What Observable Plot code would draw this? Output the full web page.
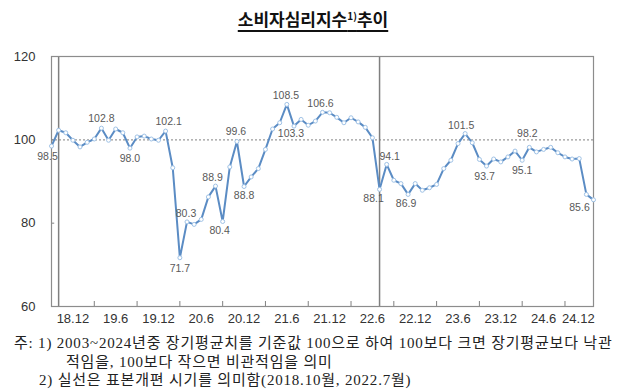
<!DOCTYPE html>
<html><head><meta charset="utf-8">
<script src="https://cdn.jsdelivr.net/npm/d3@7"></script>
<script src="https://cdn.jsdelivr.net/npm/@observablehq/plot@0.6"></script>
<style>
body{margin:0;background:#fff;width:640px;height:392px;position:relative;overflow:hidden;font-family:"Noto Sans CJK KR",sans-serif;}
#title{position:absolute;left:0;width:626px;top:7px;text-align:center;font-size:17px;font-weight:700;color:#111;line-height:24px;}
#title .t{text-decoration:underline;text-decoration-thickness:2px;text-underline-offset:4px;}
#title sup{font-size:10px;vertical-align:6px;line-height:0;}
#chart{position:absolute;left:0;top:42px;}
#notes{position:absolute;left:14px;top:334px;font-family:"Liberation Serif","Noto Sans CJK KR",serif;font-size:15px;letter-spacing:0.8px;line-height:18.5px;color:#222;white-space:nowrap;}
</style></head><body>
<div id="title"><span class="t">소비자심리지수<sup>1)</sup>추이</span></div>
<div id="chart"></div>
<div id="notes">
<div>주: 1) 2003~2024년중 장기평균치를 기준값 100으로 하여 100보다 크면 장기평균보다 낙관</div>
<div style="padding-left:52px">적임을, 100보다 작으면 비관적임을 의미</div>
<div style="padding-left:25px">2) 실선은 표본개편 시기를 의미함(2018.10월, 2022.7월)</div>
</div>
<script>
// monthly index values, 2018.9 onward
const values = [
  98.5, 102.3, 101.7, 99.9, 98.3, 99.4, 100.2, 102.8, 99.9, 102.6, 101.7, 98.0,
  100.7, 100.9, 100.2, 99.9, 102.1, 93.3, 71.7, 80.3, 79.7, 80.9, 86.3, 88.9,
  80.4, 93.5, 99.6, 88.8, 91.1, 93.1, 97.7, 102.6, 104.1, 108.5, 103.3, 104.9,
  103.5, 104.5, 106.6, 106.5, 105.4, 104.1, 105.3, 104.3, 103.0, 100.5, 88.1, 94.1,
  90.3, 89.5, 86.9, 89.5, 87.9, 88.5, 89.3, 93.1, 95.1, 99.1, 101.5, 99.3,
  95.3, 93.7, 95.4, 94.7, 95.9, 97.3, 95.1, 98.2, 97.1, 97.7, 98.2, 96.9,
  95.9, 95.4, 95.5, 86.9, 85.6
];
const startYear = 18, startMonth = 9;
const months = values.map((_, i) => {
  const m = startMonth - 1 + i;
  return `${startYear + Math.floor(m / 12)}.${(m % 12) + 1}`;
});
const tickLabels = ["18.12","19.6","19.12","20.6","20.12","21.6","21.12","22.6","22.12","23.6","23.12","24.6","24.12"];
const revisions = ["18.10", "22.7"];
const yTicks = [60, 80, 100, 120];
const baseline = 100;
// labelled points (month) and where the label sits
const labelMonths = ["18.9","19.4","19.8","20.1","20.3","20.4","20.8","20.9","20.11","20.12","21.6","21.7","21.11","22.7","22.8","22.11","23.7","23.10","24.3","24.4","25.1"];
const labelPlace = [
  [-4, 11], [0, -10], [0, 10], [3, -9], [0, 11], [-1, -8], [-3, -8], [-3, 9], [-1, -10], [0, 9],
  [-1, -9], [-3, 8], [-2, -9], [-6, 9], [3, -8], [-2, 9], [-4, -8], [-2, 11], [0, 10], [-2, -14], [-14, 8]
];

const data = values.map((v, i) => ({i, v, m: months[i]}));
const idx = m => months.indexOf(m);
const labelIdx = tickLabels.map(idx);
const tickIdx = labelIdx.slice(0, -1).map(i => i + 3);

const labelMarks = labelMonths.map((m, k) => Plot.text([data[idx(m)]], {
  x: "i", y: "v", text: d => d.v.toFixed(1),
  dx: labelPlace[k][0], dy: labelPlace[k][1],
  fill: "#595959", fontSize: 10.5
}));

const chart = Plot.plot({
  width: 640, height: 292,
  marginLeft: 51, marginRight: 47, marginTop: 14, marginBottom: 28,
  style: {fontFamily: "'Liberation Sans', Arial, sans-serif", background: "white"},
  x: {domain: [0, values.length - 1], axis: null},
  y: {domain: [60, 120], axis: null},
  marks: [
    Plot.ruleY([baseline], {stroke: "#9a9a9a", strokeWidth: 1.3, strokeDasharray: "2,2"}),
    Plot.ruleX(revisions.map(idx), {stroke: "#7f7f7f", strokeWidth: 1.5}),
    Plot.ruleX(tickIdx, {y1: 60, y2: 61.2, stroke: "#808080"}),
    Plot.ruleY(yTicks, {x1: 0, x2: 0.45, stroke: "#808080"}),
    Plot.frame({stroke: "#8c8c8c", strokeWidth: 1.2}),
    Plot.axisY({ticks: yTicks, tickSize: 0, tickPadding: 16, fontSize: 13, fill: "#333", label: null}),
    Plot.text(tickLabels.slice(0, -1), {x: (d, k) => labelIdx[k], frameAnchor: "bottom", dy: 16, fontSize: 13, fill: "#333"}),
    Plot.text(tickLabels.slice(-1), {x: labelIdx.slice(-1), frameAnchor: "bottom", dy: 16, dx: -8, fontSize: 13, fill: "#333"}),
    Plot.line(data, {x: "i", y: "v", stroke: "#5b8cc4", strokeWidth: 2}),
    Plot.dot(data, {x: "i", y: "v", r: 2, fill: "white", stroke: "#9fc2e6", strokeWidth: 1}),
    ...labelMarks
  ]
});
document.getElementById("chart").appendChild(chart);
</script>
</body></html>
